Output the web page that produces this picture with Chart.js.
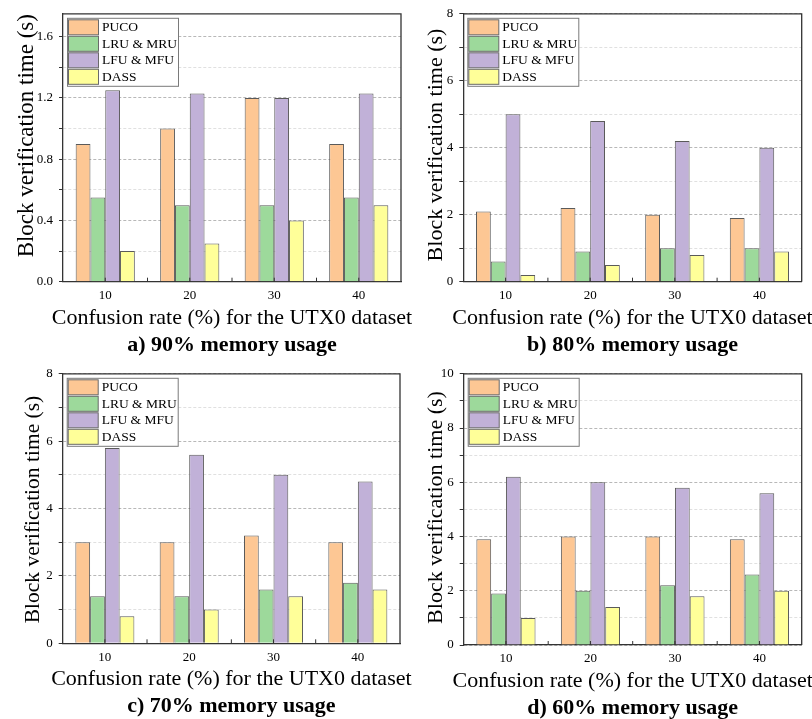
<!DOCTYPE html>
<html>
<head>
<meta charset="utf-8">
<script src="https://cdn.jsdelivr.net/npm/chart.js@4/dist/chart.umd.min.js"></script>
<style>
  html, body { margin: 0; padding: 0; background: #fff; }
  body { width: 812px; height: 719px; position: relative; overflow: hidden; }
  canvas { position: absolute; }
</style>
</head>
<body>
<canvas id="ca" width="420" height="360" style="left:0;top:0;"></canvas>
<canvas id="cb" width="407" height="360" style="left:405px;top:0;"></canvas>
<canvas id="cc" width="420" height="359" style="left:0;top:360px;"></canvas>
<canvas id="cd" width="407" height="359" style="left:405px;top:360px;"></canvas>
<script>
// ---------- data ----------
const categories = ['10', '20', '30', '40'];
const seriesNames = ['PUCO', 'LRU & MRU', 'LFU & MFU', 'DASS'];

// a) 90% memory usage
const aPUCO = [0.9, 1.0, 1.2, 0.9];
const aLRU  = [0.55, 0.5, 0.5, 0.55];
const aLFU  = [1.25, 1.23, 1.2, 1.23];
const aDASS = [0.2, 0.25, 0.4, 0.5];
// b) 80% memory usage
const bPUCO = [2.1, 2.2, 2.0, 1.9];
const bLRU  = [0.6, 0.9, 1.0, 1.0];
const bLFU  = [5.0, 4.8, 4.2, 4.0];
const bDASS = [0.2, 0.5, 0.8, 0.9];
// c) 70% memory usage
const cPUCO = [3.0, 3.0, 3.2, 3.0];
const cLRU  = [1.4, 1.4, 1.6, 1.8];
const cLFU  = [5.8, 5.6, 5.0, 4.8];
const cDASS = [0.8, 1.0, 1.4, 1.6];
// d) 60% memory usage
const dPUCO = [3.9, 4.0, 4.0, 3.9];
const dLRU  = [1.9, 2.0, 2.2, 2.6];
const dLFU  = [6.2, 6.0, 5.8, 5.6];
const dDASS = [1.0, 1.4, 1.8, 2.0];

// y tick labels (major ticks)
const aTicks = [0, 0.4, 0.8, 1.2, 1.6];
const bTicks = [0, 2, 4, 6, 8];
const cTicks = [0, 2, 4, 6, 8];
const dTicks = [0, 2, 4, 6, 8, 10];

const xTitleText = 'Confusion rate (%) for the UTX0 dataset';
const yTitleText = 'Block verification time (s)';
const subtitles = ['a) 90% memory usage', 'b) 80% memory usage', 'c) 70% memory usage', 'd) 60% memory usage'];

// ---------- styles ----------
const seriesColors = ['#FDC794', '#9DD99B', '#C1B1D8', '#FFFF99'];
const barBorder = '#5a5a5a';
const axisColor = '#333333';
const SERIF = '"Liberation Serif", "Times New Roman", serif';

// ---------- layout per panel ----------
const panels = [
  { id: 'ca', w: 420, h: 360, pl: 63,   pt: 9,    pr: 401,   pb: 281.7, yTitleX: 33,   yTitleY: 135.7, yTitleSize: 23,   ymax: 1.75, dec: 1,
    series: [aPUCO, aLRU, aLFU, aDASS], ticks: aTicks, sub: subtitles[0] },
  { id: 'cb', w: 407, h: 360, pl: 58.3, pt: 9,    pr: 396.7, pb: 281.7, yTitleX: 36.7, yTitleY: 145,   yTitleSize: 22,   ymax: 8,    dec: 0,
    series: [bPUCO, bLRU, bLFU, bDASS], ticks: bTicks, sub: subtitles[1] },
  { id: 'cc', w: 420, h: 359, pl: 62.7, pt: 11.7, pr: 400,   pb: 283.3, yTitleX: 39.3, yTitleY: 149.5, yTitleSize: 21.5, ymax: 8,    dec: 0,
    series: [cPUCO, cLRU, cLFU, cDASS], ticks: cTicks, sub: subtitles[2] },
  { id: 'cd', w: 407, h: 359, pl: 58.7, pt: 12.3, pr: 396.7, pb: 285,   yTitleX: 36.7, yTitleY: 147.5, yTitleSize: 22,   ymax: 10,   dec: 0,
    series: [dPUCO, dLRU, dLFU, dDASS], ticks: dTicks, sub: subtitles[3] }
];

const X_AXIS_H = 20;

// ---------- plugins ----------
const framePlugin = {
  id: 'frame',
  afterDatasetsDraw(chart) {
    const { ctx, chartArea: a } = chart;
    ctx.save();
    ctx.strokeStyle = axisColor;
    ctx.lineWidth = 1.3;
    ctx.beginPath();
    ctx.moveTo(a.left, a.top);
    ctx.lineTo(a.right, a.top);
    ctx.lineTo(a.right, a.bottom);
    ctx.stroke();
    // inward x ticks at category centres and boundaries
    const xs = chart.scales.x;
    ctx.lineWidth = 1;
    ctx.beginPath();
    const n = chart.data.labels.length;
    for (let i = 0; i < n; i++) {
      const c = xs.getPixelForValue(i);
      ctx.moveTo(c, a.bottom); ctx.lineTo(c, a.bottom - 4);
      if (i < n - 1) {
        const b = (c + xs.getPixelForValue(i + 1)) / 2;
        ctx.moveTo(b, a.bottom); ctx.lineTo(b, a.bottom - 4);
      }
    }
    ctx.stroke();
    ctx.restore();
  }
};

const legendPlugin = {
  id: 'innerLegend',
  afterDatasetsDraw(chart) {
    const { ctx, chartArea: a } = chart;
    const fx = a.left + 4, fy = a.top + 4, fw = 111, fh = 68;
    ctx.save();
    ctx.fillStyle = '#ffffff';
    ctx.fillRect(fx, fy, fw, fh);
    ctx.strokeStyle = '#7a7a7a';
    ctx.lineWidth = 1;
    ctx.strokeRect(fx + 0.5, fy + 0.5, fw, fh);
    ctx.font = '13.5px ' + SERIF;
    ctx.textBaseline = 'middle';
    ctx.textAlign = 'left';
    chart.data.datasets.forEach((ds, i) => {
      const by = fy + 2 + 16.5 * i;
      ctx.fillStyle = ds.backgroundColor;
      ctx.fillRect(fx + 1.5, by, 30, 15);
      ctx.strokeStyle = '#6a6a6a';
      ctx.strokeRect(fx + 1.5, by, 30, 15);
      ctx.fillStyle = '#000';
      ctx.fillText(ds.label, fx + 35, by + 8);
    });
    ctx.restore();
  }
};

const textPlugin = {
  id: 'panelTexts',
  afterDraw(chart, args, opts) {
    const { ctx, chartArea: a } = chart;
    const cx = (a.left + a.right) / 2;
    ctx.save();
    ctx.fillStyle = '#000';
    ctx.textAlign = 'center';
    ctx.textBaseline = 'alphabetic';
    ctx.font = '22px ' + SERIF;
    ctx.fillText(xTitleText, cx, a.bottom + 42);
    ctx.font = 'bold 22px ' + SERIF;
    ctx.fillText(opts.sub, cx, a.bottom + 69);
    // y-axis title
    ctx.translate(opts.yTitleX, opts.yTitleY);
    ctx.rotate(-Math.PI / 2);
    ctx.font = opts.yTitleSize + 'px ' + SERIF;
    ctx.fillText(yTitleText, 0, 0);
    ctx.restore();
  }
};

// ---------- build charts ----------
panels.forEach(p => {
  const majors = p.ticks;
  const step = majors[1] - majors[0];
  const allTicks = [];
  majors.forEach((v, i) => {
    allTicks.push(v);
    if (i < majors.length - 1) allTicks.push(v + step / 2);
  });
  const isMajor = v => majors.some(m => Math.abs(m - v) < 1e-9);

  new Chart(document.getElementById(p.id), {
    type: 'bar',
    data: {
      labels: categories,
      datasets: seriesNames.map((name, i) => ({
        label: name,
        data: p.series[i],
        backgroundColor: seriesColors[i],
        borderColor: barBorder,
        borderWidth: 1,
        borderSkipped: 'bottom',
        categoryPercentage: 0.7,
        barPercentage: 1.0
      }))
    },
    options: {
      responsive: false,
      animation: false,
      devicePixelRatio: 1,
      layout: {
        padding: { left: 0, top: p.pt, right: p.w - p.pr, bottom: p.h - p.pb - X_AXIS_H }
      },
      plugins: {
        legend: { display: false },
        tooltip: { enabled: false },
        title: { display: false },
        panelTexts: { sub: p.sub, yTitleX: p.yTitleX, yTitleY: p.yTitleY, yTitleSize: p.yTitleSize }
      },
      scales: {
        x: {
          offset: true,
          grid: { display: true, drawOnChartArea: false, drawTicks: false, offset: true },
          border: { display: true, color: axisColor, width: 1.3 },
          ticks: {
            color: '#000',
            padding: 6,
            font: { family: SERIF, size: 13 }
          },
          afterFit(scale) { scale.height = X_AXIS_H; }
        },
        y: {
          min: 0,
          max: p.ymax,
          afterBuildTicks(scale) { scale.ticks = allTicks.map(v => ({ value: v })); },
          grid: {
            drawOnChartArea: true,
            drawTicks: true,
            tickLength: 4,
            tickColor: axisColor,
            lineWidth: 1,
            borderDash: [3, 2],
            color: ctx => (ctx.tick && isMajor(ctx.tick.value)) ? '#b8b8b8' : '#e0e0e0'
          },
          border: { display: true, color: axisColor, width: 1.3, dash: [3, 2] },
          ticks: {
            autoSkip: false,
            color: '#000',
            padding: 6,
            font: { family: SERIF, size: 13 },
            callback: v => isMajor(v) ? Number(v).toFixed(p.dec) : ''
          },
          title: { display: false },
          afterFit(scale) { scale.width = p.pl; }
        }
      }
    },
    plugins: [framePlugin, legendPlugin, textPlugin]
  });
});
</script>
</body>
</html>
